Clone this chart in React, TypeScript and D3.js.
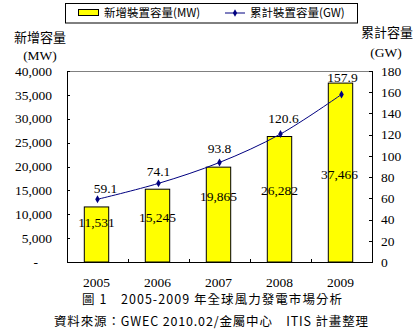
import React from "react";
import * as d3 from "d3";

const years = ["2005", "2006", "2007", "2008", "2009"];
const newCapacity = [11531, 15245, 19865, 26282, 37466];
const cumulative = [59.1, 74.1, 93.8, 120.6, 157.9];
const leftTicks = [0, 5000, 10000, 15000, 20000, 25000, 30000, 35000, 40000];
const rightTicks = [0, 20, 40, 60, 80, 100, 120, 140, 160, 180];
// label placement offsets (px)
const barLabelDy = [15.5, 28.5, 29, 53.5, 91];
const barLabelDx = [0, 0, 0, 0, -1];
const lineLabelDx = [8, 0, 0, 3, 1];
const lineLabelDy = [-11.5, -12.5, -14, -16, -17.5];

const W = 419, H = 333;
const L = 67, R = 372, T = 71, B = 262;
const serif = "'Liberation Serif', 'Times New Roman', serif";
const cjk = "'Noto Sans CJK TC', 'Noto Sans CJK SC', sans-serif";

export default function App() {
  const x = d3.scaleBand().domain(years).range([L, R]).paddingInner(0).paddingOuter(0);
  const yL = d3.scaleLinear().domain([0, 40000]).range([B, T]);
  const yR = d3.scaleLinear().domain([0, 180]).range([B, T]);
  const bw = x.bandwidth() * 0.4;
  const cx = (d: string) => (x(d) as number) + x.bandwidth() / 2;
  const line = d3
    .line<number>()
    .x((_, i) => cx(years[i]))
    .y((d) => yR(d))
    .curve(d3.curveCatmullRom.alpha(0.5));
  const fmt = d3.format(",");
  const fs = 13.5;
  return (
    <svg width={W} height={H} style={{ position: "absolute", left: 0, top: 0, background: "#fff" }}>
      <rect x={0} y={0} width={W} height={H} fill="#fff" />
      {/* legend */}
      <rect x={65.5} y={3.5} width={292} height={19.5} fill="#fff" stroke="#000" strokeWidth={1} />
      <rect x={78.5} y={9.5} width={20} height={6} fill="#ffff00" stroke="#000" strokeWidth={1} />
      <text x={104} y={17} fontFamily={cjk} fontSize={11.5} fill="#000">新增裝置容量(MW)</text>
      <line x1={225} x2={245} y1={13} y2={13} stroke="#000080" strokeWidth={1} />
      <path d={d3.symbol(d3.symbolDiamond, 16)() as string} transform="translate(235,13)" fill="#000080" />
      <text x={250} y={17} fontFamily={cjk} fontSize={11.5} fill="#000">累計裝置容量(GW)</text>

      {/* axis titles */}
      <text x={40} y={42} textAnchor="middle" fontFamily={cjk} fontSize={13} fill="#000">新增容量</text>
      <text x={40} y={60} textAnchor="middle" fontFamily={serif} fontSize={fs} fill="#000">(MW)</text>
      <text x={387} y={37} textAnchor="middle" fontFamily={cjk} fontSize={13} fill="#000">累計容量</text>
      <text x={386} y={57} textAnchor="middle" fontFamily={serif} fontSize={fs} fill="#000">(GW)</text>

      {/* plot frame */}
      <line x1={L} x2={R} y1={T + 0.5} y2={T + 0.5} stroke="#808080" />

      {/* bars */}
      {newCapacity.map((v, i) => (
        <rect
          key={years[i]}
          x={cx(years[i]) - bw / 2 - 1}
          y={yL(v)}
          width={bw}
          height={B - yL(v)}
          fill="#ffff00"
          stroke="#000"
          strokeWidth={1}
        />
      ))}

      {/* axes */}
      <line x1={L + 0.5} x2={L + 0.5} y1={T} y2={B} stroke="#000" />
      <line x1={R + 0.5} x2={R + 0.5} y1={T} y2={B} stroke="#000" />
      <line x1={L} x2={R + 1} y1={B + 0.5} y2={B + 0.5} stroke="#000" />
      {leftTicks.map((t) => (
        <g key={"l" + t}>
          <line x1={L} x2={L + 3} y1={Math.round(yL(t)) + 0.5} y2={Math.round(yL(t)) + 0.5} stroke="#000" />
          <text
            x={t === 0 ? 38 : 52}
            y={yL(t)}
            dy="0.35em"
            textAnchor="end"
            fontFamily={serif}
            fontSize={fs}
            fill="#000"
          >
            {t === 0 ? "-" : fmt(t)}
          </text>
        </g>
      ))}
      {rightTicks.map((t) => (
        <g key={"r" + t}>
          <line x1={R - 3} x2={R} y1={Math.round(yR(t)) + 0.5} y2={Math.round(yR(t)) + 0.5} stroke="#000" />
          <text x={381} y={yR(t)} dy="0.35em" textAnchor="start" fontFamily={serif} fontSize={fs} fill="#000">
            {t}
          </text>
        </g>
      ))}
      {years.slice(1).map((yr) => (
        <line key={"b" + yr} x1={(x(yr) as number) + 0.5} x2={(x(yr) as number) + 0.5} y1={B - 3} y2={B} stroke="#000" />
      ))}
      {years.map((yr) => (
        <text key={"x" + yr} x={cx(yr) - 1} y={282} dy="0.35em" textAnchor="middle" fontFamily={serif} fontSize={fs} fill="#000">
          {yr}
        </text>
      ))}

      {/* line */}
      <path d={line(cumulative) as string} fill="none" stroke="#000080" strokeWidth={1} />
      {cumulative.map((v, i) => (
        <path
          key={"m" + i}
          d={d3.symbol(d3.symbolDiamond, 18)() as string}
          transform={`translate(${cx(years[i])},${yR(v)})`}
          fill="#000080"
        />
      ))}

      {/* labels */}
      {newCapacity.map((v, i) => (
        <text
          key={"bl" + i}
          x={cx(years[i]) - 1 + barLabelDx[i]}
          y={yL(v) + barLabelDy[i]}
          dy="0.35em"
          textAnchor="middle"
          fontFamily={serif}
          fontSize={fs}
          fill="#000"
        >
          {fmt(v)}
        </text>
      ))}
      {cumulative.map((v, i) => (
        <text
          key={"ll" + i}
          x={cx(years[i]) + lineLabelDx[i]}
          y={yR(v) + lineLabelDy[i]}
          dy="0.35em"
          textAnchor="middle"
          fontFamily={serif}
          fontSize={fs}
          fill="#000"
        >
          {v.toFixed(1)}
        </text>
      ))}

      {/* captions */}
      <text x={82} y={304} fontFamily={cjk} fontSize={12.5} fill="#000" textLength={260} lengthAdjust="spacing">
        圖 1　2005-2009 年全球風力發電市場分析
      </text>
      <text x={54} y={326} fontFamily={cjk} fontSize={12.5} fill="#000" textLength={314} lengthAdjust="spacing">
        資料來源：GWEC 2010.02/金屬中心　ITIS 計畫整理
      </text>
    </svg>
  );
}
